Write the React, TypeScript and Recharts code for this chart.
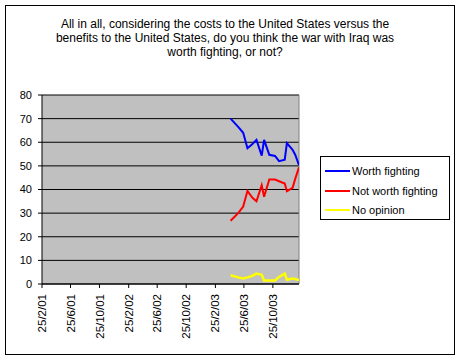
import React from "react";
import { LineChart, Line, XAxis, YAxis, CartesianGrid, ReferenceLine } from "recharts";

const pollDates = [
  "2003-04-30", "2003-06-01", "2003-06-22", "2003-07-10", "2003-07-31", "2003-08-17",
  "2003-09-08", "2003-09-18", "2003-10-10", "2003-11-03", "2003-11-20", "2003-12-14",
  "2003-12-23", "2004-01-16", "2004-01-27", "2004-02-12",
];
const worthFighting = [70, 66.5, 64, 57.5, 59.3, 61, 54.3, 61, 54.7, 54.2, 52, 52.6, 59.6, 56.8, 54.7, 50.3];
const notWorthFighting = [26.8, 30, 32.8, 39.4, 36.5, 35, 41.8, 36.9, 44.2, 44.2, 43.5, 42.5, 39.3, 40.7, 44.5, 49.4];
const noOpinion = [3.7, 2.8, 2.3, 2.8, 3.5, 4.4, 3.9, 1.5, 1.5, 1.5, 3, 4.4, 1.8, 2.3, 2.1, 1.7];

const tickDates = [
  "2001-02-25", "2001-06-25", "2001-10-25", "2002-02-25", "2002-06-25",
  "2002-10-25", "2003-02-25", "2003-06-25", "2003-10-25",
];
const tickLabels = ["25/2/01", "25/6/01", "25/10/01", "25/2/02", "25/6/02", "25/10/02", "25/2/03", "25/6/03", "25/10/03"];
const yTicks = [0, 10, 20, 30, 40, 50, 60, 70, 80];

const title = [
  "All in all, considering the costs to the United States versus the",
  "benefits to the United States, do you think the war with Iraq was",
  "worth fighting, or not?",
];
const seriesNames = ["Worth fighting", "Not worth fighting", "No opinion"];
const seriesColors = ["#0000FF", "#FF0000", "#FFFF00"];

const toTime = (s: string) => Date.parse(s + "T00:00:00Z");

const data = pollDates.map((d, i) => ({
  t: toTime(d),
  worth: worthFighting[i],
  notWorth: notWorthFighting[i],
  noOp: noOpinion[i],
}));

const tickTimes = tickDates.map(toTime);
const domainMin = tickTimes[0];
const domainMax = toTime(pollDates[pollDates.length - 1]);

const FONT = "'Liberation Sans', Arial, sans-serif";

const XTick = (props: any) => {
  const { x, y, payload } = props;
  const idx = tickTimes.indexOf(payload.value);
  const label = idx >= 0 ? tickLabels[idx] : "";
  return (
    <g transform={`translate(${x},${y + 4})`}>
      <text
        transform="rotate(-90)"
        textAnchor="end"
        dy="0.35em"
        fontSize={11.5}
        fontFamily={FONT}
        fill="#000"
      >
        {label}
      </text>
    </g>
  );
};

export default function App() {
  return (
    <div style={{ position: "absolute", left: 0, top: 0, width: 461, height: 361, background: "#fff" }}>
      <div
        style={{
          position: "absolute",
          left: 5,
          top: 5,
          width: 448,
          height: 348,
          border: "1px solid #000",
        }}
      />
      <div
        style={{
          position: "absolute",
          left: 0,
          top: 17,
          width: 450,
          textAlign: "center",
          fontFamily: FONT,
          fontSize: 12,
          lineHeight: "14px",
          color: "#000",
        }}
      >
        {title.map((l, i) => (
          <div key={i}>{l}</div>
        ))}
      </div>
      <div style={{ position: "absolute", left: 0, top: 0 }}>
        <LineChart
          width={461}
          height={361}
          data={data}
          margin={{ top: 95, right: 162, bottom: 0, left: 0 }}
        >
          <CartesianGrid
            vertical={false}
            stroke="#000"
            fill="#C0C0C0"
            fillOpacity={1}
          />
          <ReferenceLine x={domainMax} stroke="#808080" strokeWidth={1} />
          <XAxis
            dataKey="t"
            type="number"
            scale="time"
            domain={[domainMin, domainMax]}
            ticks={tickTimes}
            tick={<XTick />}
            tickSize={4}
            height={77}
            stroke="#000"
            interval={0}
            allowDataOverflow
          />
          <YAxis
            type="number"
            domain={[0, 80]}
            ticks={yTicks}
            width={42}
            tickSize={4}
            tickMargin={6}
            stroke="#000"
            tick={{ fontSize: 11, fontFamily: FONT, fill: "#000" }}
            interval={0}
          />
          <Line dataKey="worth" stroke={seriesColors[0]} strokeWidth={2} dot={false} isAnimationActive={false} />
          <Line dataKey="notWorth" stroke={seriesColors[1]} strokeWidth={2} dot={false} isAnimationActive={false} />
          <Line dataKey="noOp" stroke={seriesColors[2]} strokeWidth={2.5} dot={false} isAnimationActive={false} />
        </LineChart>
      </div>
      <div
        style={{
          position: "absolute",
          left: 320,
          top: 156,
          width: 128,
          height: 62,
          border: "1px solid #000",
          fontFamily: FONT,
          fontSize: 11,
          color: "#000",
        }}
      >
        {seriesNames.map((n, i) => (
          <div
            key={n}
            style={{ position: "absolute", left: 4, top: 6 + i * 19.5, height: 16, display: "flex", alignItems: "center" }}
          >
            <div style={{ width: 25, height: 2, background: seriesColors[i], marginRight: 2 }} />
            <span>{n}</span>
          </div>
        ))}
      </div>
    </div>
  );
}
